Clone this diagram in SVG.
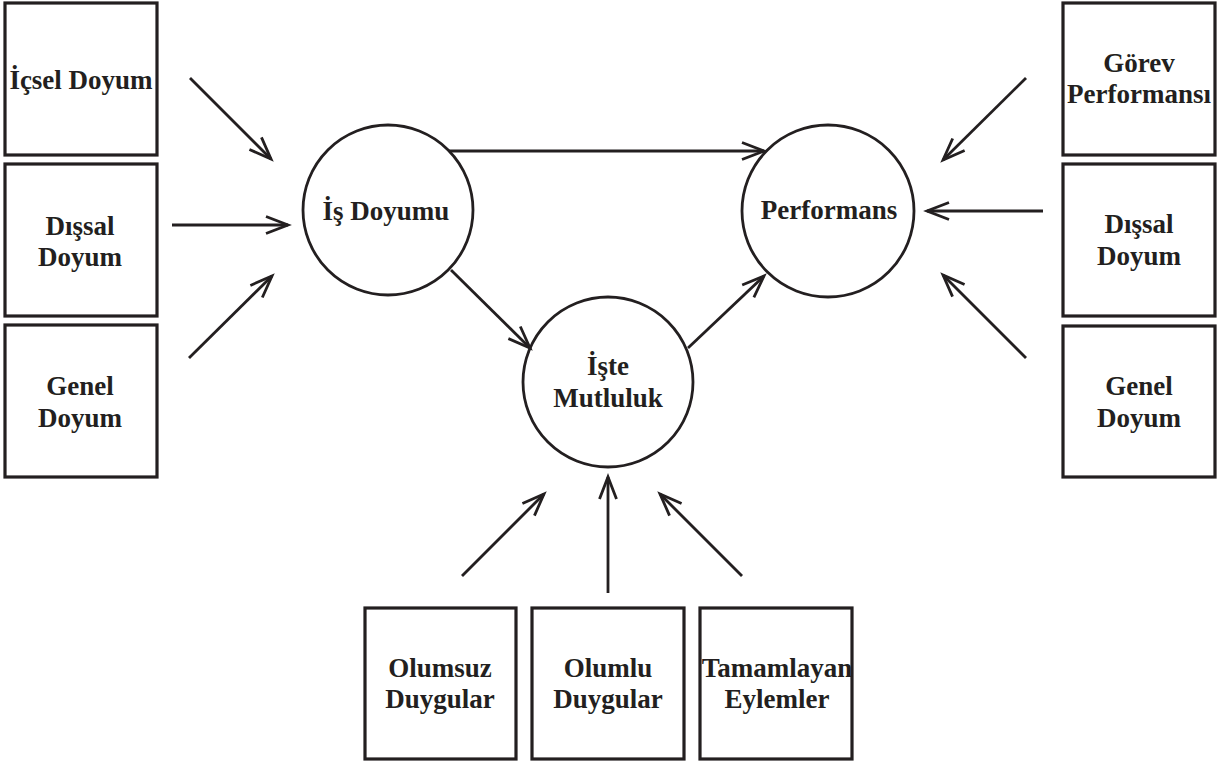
<svg xmlns="http://www.w3.org/2000/svg" width="1222" height="761" viewBox="0 0 1222 761">
<style>
.box{fill:#fff;stroke:#231f20;stroke-width:3.2}
.circ{fill:#fff;stroke:#231f20;stroke-width:2.8}
.lbl{font-family:"Liberation Serif","Times New Roman",serif;font-weight:bold;font-size:27px;fill:#231f20;text-anchor:middle}
.conn line{stroke:#231f20;stroke-width:2.8;marker-end:url(#arr)}
</style>
<defs>
<marker id="arr" markerUnits="userSpaceOnUse" viewBox="-26 -11 28 22" refX="0" refY="0" markerWidth="28" markerHeight="22" orient="auto" overflow="visible">
<path d="M-22,-8.5 L0,0 L-22,8.5" fill="none" stroke="#231f20" stroke-width="2.8"/>
</marker>
</defs>
<rect width="1222" height="761" fill="#fff"/>
<g id="icsel-doyum"><rect class="box" x="5" y="3" width="152" height="152"/><text class="lbl" x="81" y="89">İçsel Doyum</text></g>
<g id="dissal-doyum-l"><rect class="box" x="5" y="164" width="152" height="152"/><text class="lbl" x="80" y="235">Dışsal</text><text class="lbl" x="80" y="266">Doyum</text></g>
<g id="genel-doyum-l"><rect class="box" x="5" y="325" width="152" height="152"/><text class="lbl" x="80" y="395">Genel</text><text class="lbl" x="80" y="427">Doyum</text></g>
<g id="gorev-performansi"><rect class="box" x="1063" y="3" width="152" height="152"/><text class="lbl" x="1139" y="72">Görev</text><text class="lbl" x="1139" y="103">Performansı</text></g>
<g id="dissal-doyum-r"><rect class="box" x="1063" y="164" width="152" height="152"/><text class="lbl" x="1139" y="233">Dışsal</text><text class="lbl" x="1139" y="265">Doyum</text></g>
<g id="genel-doyum-r"><rect class="box" x="1063" y="326" width="152" height="151"/><text class="lbl" x="1139" y="395">Genel</text><text class="lbl" x="1139" y="427">Doyum</text></g>
<g id="olumsuz-duygular"><rect class="box" x="365" y="608" width="151" height="151"/><text class="lbl" x="440" y="677">Olumsuz</text><text class="lbl" x="440" y="708">Duygular</text></g>
<g id="olumlu-duygular"><rect class="box" x="532" y="608" width="152" height="151"/><text class="lbl" x="608" y="677">Olumlu</text><text class="lbl" x="608" y="708">Duygular</text></g>
<g id="tamamlayan-eylemler"><rect class="box" x="700" y="608" width="152" height="151"/><text class="lbl" x="777" y="677">Tamamlayan</text><text class="lbl" x="777" y="708">Eylemler</text></g>
<g id="is-doyumu"><circle class="circ" cx="388" cy="210" r="85"/><text class="lbl" x="386" y="220">İş Doyumu</text></g>
<g id="performans"><circle class="circ" cx="828" cy="211" r="86"/><text class="lbl" x="829" y="219">Performans</text></g>
<g id="iste-mutluluk"><circle class="circ" cx="608" cy="382" r="85"/><text class="lbl" x="608" y="375">İşte</text><text class="lbl" x="608" y="407">Mutluluk</text></g>
<g class="conn" id="connectors">
<line x1="190" y1="78" x2="271" y2="159"/>
<line x1="172" y1="225" x2="288" y2="225"/>
<line x1="189" y1="358" x2="272" y2="276"/>
<line x1="449" y1="151" x2="764" y2="151"/>
<line x1="451" y1="270" x2="530" y2="348"/>
<line x1="688" y1="348" x2="764" y2="276"/>
<line x1="462" y1="576" x2="544" y2="494"/>
<line x1="608" y1="593" x2="608" y2="477"/>
<line x1="742" y1="576" x2="660" y2="494"/>
<line x1="1026" y1="78" x2="943" y2="160"/>
<line x1="1043" y1="211" x2="927" y2="211"/>
<line x1="1026" y1="358" x2="943" y2="275"/>
</g>
</svg>
